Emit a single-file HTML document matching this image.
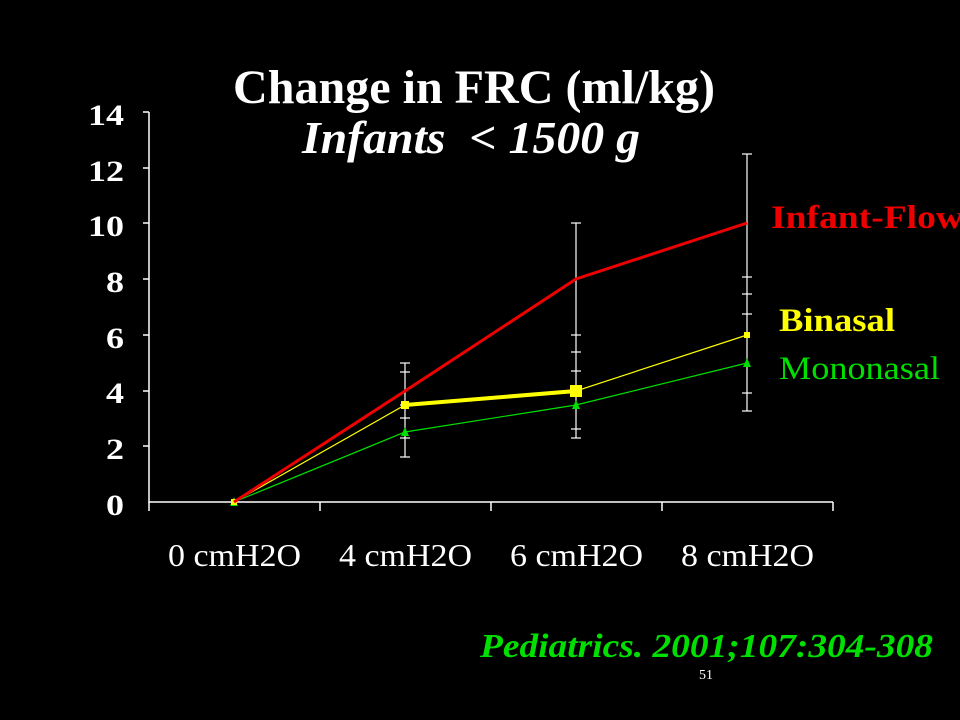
<!DOCTYPE html>
<html><head><style>body{margin:0;background:#000}svg{display:block}</style></head><body>
<svg width="960" height="720" xmlns="http://www.w3.org/2000/svg" font-family="Liberation Serif, serif">
<rect width="960" height="720" fill="#000"/>
<text x="233" y="103" fill="#fff" font-size="48" font-weight="bold" textLength="482" lengthAdjust="spacingAndGlyphs">Change in FRC (ml/kg)</text>
<text x="302" y="153" fill="#fff" font-size="46" font-weight="bold" font-style="italic" textLength="338" lengthAdjust="spacingAndGlyphs" xml:space="preserve">Infants  &lt; 1500 g</text>
<g stroke="#fff" stroke-width="1.5">
<line x1="149" y1="112" x2="149" y2="503"/>
<line x1="149" y1="502" x2="833" y2="502"/>
<line x1="143" y1="112" x2="149" y2="112"/><line x1="143" y1="168" x2="149" y2="168"/><line x1="143" y1="223" x2="149" y2="223"/><line x1="143" y1="279" x2="149" y2="279"/><line x1="143" y1="335" x2="149" y2="335"/><line x1="143" y1="391" x2="149" y2="391"/><line x1="143" y1="446" x2="149" y2="446"/>
<line x1="149" y1="502" x2="149" y2="511"/><line x1="320" y1="502" x2="320" y2="511"/><line x1="491" y1="502" x2="491" y2="511"/><line x1="662" y1="502" x2="662" y2="511"/><line x1="833" y1="502" x2="833" y2="511"/>
</g>
<g fill="#fff" font-size="30" font-weight="bold">
<text x="88" y="125" textLength="36" lengthAdjust="spacingAndGlyphs">14</text><text x="88" y="181" textLength="36" lengthAdjust="spacingAndGlyphs">12</text><text x="88" y="236" textLength="36" lengthAdjust="spacingAndGlyphs">10</text><text x="106" y="292" textLength="18" lengthAdjust="spacingAndGlyphs">8</text><text x="106" y="348" textLength="18" lengthAdjust="spacingAndGlyphs">6</text><text x="106" y="403" textLength="18" lengthAdjust="spacingAndGlyphs">4</text><text x="106" y="459" textLength="18" lengthAdjust="spacingAndGlyphs">2</text><text x="106" y="515" textLength="18" lengthAdjust="spacingAndGlyphs">0</text>
</g>
<g fill="#fff" font-size="32">
<text x="168" y="566" textLength="133" lengthAdjust="spacingAndGlyphs">0 cmH2O</text><text x="339" y="566" textLength="133" lengthAdjust="spacingAndGlyphs">4 cmH2O</text><text x="510" y="566" textLength="133" lengthAdjust="spacingAndGlyphs">6 cmH2O</text><text x="681" y="566" textLength="133" lengthAdjust="spacingAndGlyphs">8 cmH2O</text>
</g>
<g stroke="#fff" stroke-width="1.2">
<line x1="405" y1="363" x2="405" y2="457"/>
<line x1="400" y1="363" x2="410" y2="363"/><line x1="400" y1="372" x2="410" y2="372"/><line x1="400" y1="405" x2="410" y2="405"/><line x1="400" y1="418" x2="410" y2="418"/><line x1="400" y1="438" x2="410" y2="438"/><line x1="400" y1="457" x2="410" y2="457"/>
<line x1="576" y1="223" x2="576" y2="438"/>
<line x1="571" y1="223" x2="581" y2="223"/><line x1="571" y1="335" x2="581" y2="335"/><line x1="571" y1="352" x2="581" y2="352"/><line x1="571" y1="371" x2="581" y2="371"/><line x1="571" y1="429" x2="581" y2="429"/><line x1="571" y1="438" x2="581" y2="438"/>
<line x1="747" y1="154" x2="747" y2="411"/>
<line x1="742" y1="154" x2="752" y2="154"/><line x1="742" y1="277" x2="752" y2="277"/><line x1="742" y1="294" x2="752" y2="294"/><line x1="742" y1="314" x2="752" y2="314"/><line x1="742" y1="393" x2="752" y2="393"/><line x1="742" y1="411" x2="752" y2="411"/>
</g>
<polyline points="234,502 405,432 576,405 747,363" fill="none" stroke="#00e000" stroke-width="1.2"/>
<g fill="#00e000"><polygon points="405,427 401,436 409,436"/><polygon points="576,400 572,409 580,409"/><polygon points="747,358 743,367 751,367"/><polygon points="234,497 230,506 238,506"/></g>
<polyline points="234,502 405,405 576,391 747,335" fill="none" stroke="#ffff00" stroke-width="1.2"/>
<line x1="405" y1="405" x2="576" y2="391" stroke="#ffff00" stroke-width="4"/>
<g fill="#ffff00"><rect x="401" y="401" width="8" height="8"/><rect x="570" y="385" width="12" height="12"/><rect x="744" y="332" width="6" height="6"/><rect x="231" y="499" width="6" height="6"/></g>
<polyline points="234,502 405,391 576,279 747,223" fill="none" stroke="#ee0000" stroke-width="3"/>
<text x="771" y="228" fill="#ee0000" font-size="33" font-weight="bold" textLength="192" lengthAdjust="spacingAndGlyphs">Infant-Flow</text>
<text x="779" y="331" fill="#ffff00" font-size="33" font-weight="bold" textLength="116" lengthAdjust="spacingAndGlyphs">Binasal</text>
<text x="779" y="379" fill="#00e000" font-size="33" textLength="161" lengthAdjust="spacingAndGlyphs">Mononasal</text>
<text x="480" y="657" fill="#00e000" font-size="34" font-weight="bold" font-style="italic" textLength="453" lengthAdjust="spacingAndGlyphs">Pediatrics. 2001;107:304-308</text>
<text x="706" y="679" fill="#fff" font-size="14" text-anchor="middle">51</text>
</svg>
</body></html>
